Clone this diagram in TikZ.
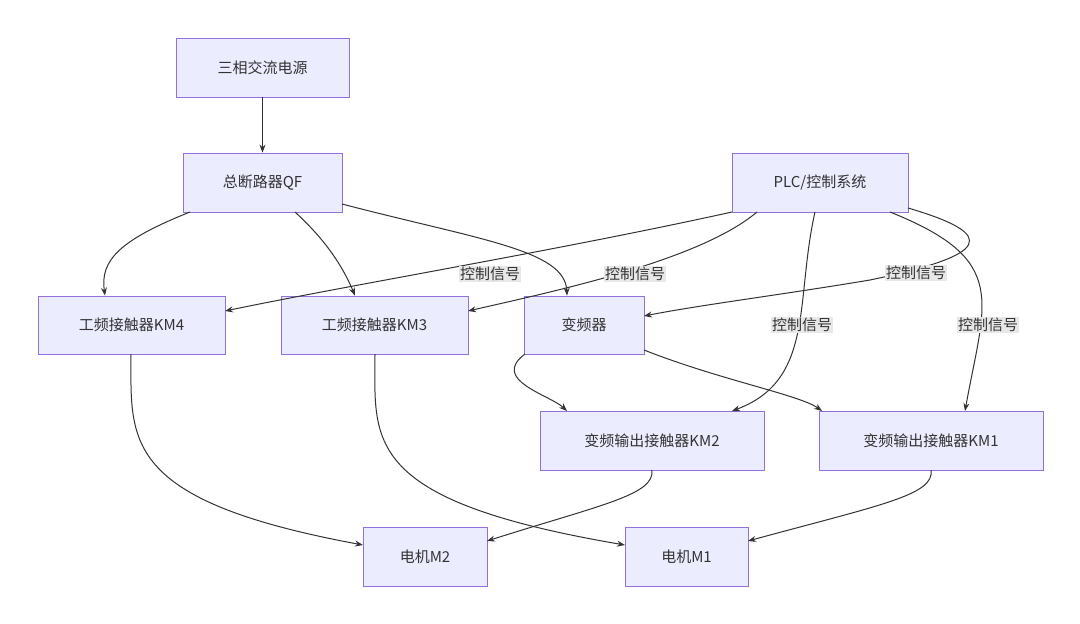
\documentclass[tikz,border=0pt]{standalone}
\usepackage{fontspec}
\setmainfont{Noto Sans CJK SC}
\usetikzlibrary{arrows.meta}
\definecolor{nf}{HTML}{ECECFF}
\definecolor{nb}{HTML}{9370DB}
\definecolor{tx}{HTML}{333333}
\definecolor{lb}{HTML}{E8E8E8}
\begin{document}
\begin{tikzpicture}[x=1pt,y=-1pt,
 box/.style={draw=nb,fill=nf,line width=0.8pt,text=tx,font=\fontsize{15}{18}\selectfont,anchor=center,inner sep=0pt},
 lab/.style={fill=lb,text=tx,font=\fontsize{15}{18}\selectfont,inner sep=1pt},
 ed/.style={draw=tx,line width=1pt,-{Stealth[length=8pt,width=6pt]}}]
\useasboundingbox (0,0) rectangle (1080,624);
\fill[white] (0,0) rectangle (1080,624);
\node[box,minimum width=173,minimum height=59] (pw) at (262.5,67.5) {三相交流电源};
\node[box,minimum width=159,minimum height=59] (qf) at (262.5,182.5) {总断路器QF};
\node[box,minimum width=176,minimum height=59] (plc) at (820,182.5) {PLC/控制系统};
\node[box,minimum width=187,minimum height=58] (km4) at (131.5,325) {工频接触器KM4};
\node[box,minimum width=187,minimum height=58] (km3) at (374.5,325) {工频接触器KM3};
\node[box,minimum width=120,minimum height=58] (vf) at (584,325) {变频器};
\node[box,minimum width=224,minimum height=59] (km2) at (652,440.5) {变频输出接触器KM2};
\node[box,minimum width=224,minimum height=59] (km1) at (931,440.5) {变频输出接触器KM1};
\node[box,minimum width=124,minimum height=59] (m2) at (425,556.5) {电机M2};
\node[box,minimum width=123,minimum height=59] (m1) at (686.5,556.5) {电机M1};

\coordinate (a1) at (190,212); \coordinate (a2) at (295,212); \coordinate (a3) at (342,204);
\draw[ed] (pw) -- (qf);
\draw[ed] (a1) .. controls (120,240) and (100,260) .. (km4.north -| 105,0);
\draw[ed] (a2) .. controls (320,235) and (340,260) .. (km3.north -| 355,0);
\draw[ed] (a3) .. controls (480,240) and (565,250) .. (vf.north -| 567,0);

\coordinate (p1) at (732,212); \coordinate (p2) at (757,212); \coordinate (p3) at (908,208);
\coordinate (p4) at (815,212); \coordinate (p5) at (890,212);
\draw[ed] (p1) .. controls (560,250) and (350,285) .. (225,311);
\draw[ed] (p2) .. controls (700,260) and (560,290) .. (468,311);
\draw[ed] (p3) .. controls (1000,235) and (990,255) .. (870,280) .. controls (780,295) and (700,305) .. (644,316);
\draw[ed] (p4) .. controls (795,300) and (815,380) .. (732,411);
\draw[ed] (p5) .. controls (1010,260) and (985,300) .. (965,411);
\node[lab] (l1) at (490,274) {控制信号};
\node[lab] (l2) at (635,274) {控制信号};
\node[lab] (l3) at (916,273) {控制信号};
\node[lab] (l4) at (802,325) {控制信号};
\node[lab] (l5) at (988,325) {控制信号};

\coordinate (v1) at (525,354); \coordinate (v2) at (644,350);
\draw[ed] (v1) .. controls (490,380) and (550,395) .. (567,411);
\draw[ed] (v2) .. controls (720,380) and (800,395) .. (822,411);

\coordinate (k4) at (131,354); \coordinate (k3) at (375,354);
\coordinate (k2) at (652,470); \coordinate (k1) at (931,470);
\draw[ed] (k4) .. controls (131,440) and (120,500) .. (363,545);
\draw[ed] (k3) .. controls (375,440) and (360,500) .. (625,545);
\draw[ed] (k2) .. controls (655,495) and (600,505) .. (487,541);
\draw[ed] (k1) .. controls (935,495) and (880,505) .. (748,541);
\end{tikzpicture}
\end{document}
